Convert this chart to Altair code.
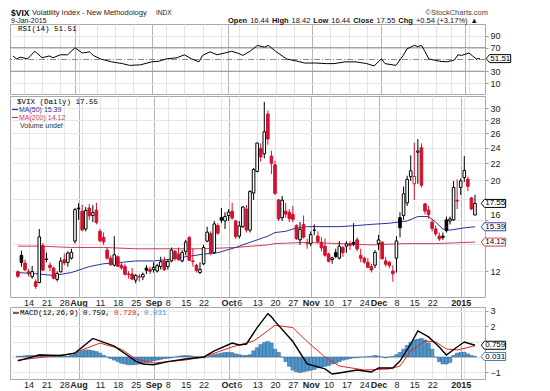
import altair as alt
import pandas as pd

# ---------------- data ----------------
# daily candles, trading-day index 0 = 9 Jul 2014 ... 128 = 9 Jan 2015
OPEN = [11.95, 13.10, 12.55, 11.95, 11.62, 11.30, 11.25, 13.84, 12.84, 12.40,
        12.20, 11.45, 11.95, 12.80, 12.60, 12.90, 14.20, 17.10, 16.80, 15.20,
        17.10, 16.40, 16.90, 15.00, 14.50, 13.50, 12.90, 12.40, 13.00, 12.40,
        12.30, 11.80, 11.80, 11.40, 11.60, 11.60, 12.20, 12.10, 12.10, 12.00,
        12.30, 12.70, 12.30, 12.70, 13.40, 13.20, 12.70, 13.40, 14.50, 12.70,
        12.40, 11.90, 12.50, 14.20, 14.80, 13.30, 15.50, 16.20, 15.90, 16.40,
        16.80, 15.90, 14.60, 15.40, 17.00, 15.10, 18.60, 21.00, 23.90, 23.20,
        29.00, 22.90, 21.80, 17.90, 16.20, 16.80, 16.70, 16.50, 15.50, 14.30,
        15.60, 14.00, 14.00, 15.10, 14.60, 14.10, 13.80, 13.20, 12.80, 13.30,
        12.90, 13.70, 13.80, 14.00, 14.10, 14.30, 13.10, 12.90, 12.60, 12.30,
        12.40, 14.00, 14.10, 12.70, 12.60, 12.00, 12.90, 16.20, 16.40, 17.60,
        20.40, 19.60, 23.40, 24.00, 17.50, 16.90, 15.80, 15.20, 14.60, 14.60,
        16.00, 15.90, 16.00, 17.85, 19.20, 20.30, 20.10, 18.10, 16.44]
HIGH = [12.05, 13.46, 12.80, 12.15, 12.35, 11.45, 15.20, 14.05, 13.31, 12.60,
        12.30, 11.98, 12.97, 13.25, 13.40, 13.60, 17.10, 17.57, 17.40, 17.20,
        17.50, 17.40, 17.60, 15.20, 14.90, 13.70, 13.10, 14.60, 13.10, 12.60,
        12.50, 12.00, 12.20, 11.80, 11.80, 11.90, 12.40, 12.30, 12.60, 12.50,
        13.00, 13.00, 12.80, 13.70, 13.50, 13.70, 13.50, 14.30, 14.60, 13.60,
        12.50, 12.60, 13.90, 15.40, 15.00, 15.90, 15.70, 17.10, 16.70, 17.00,
        17.60, 16.00, 15.90, 17.30, 17.40, 18.90, 21.40, 24.70, 24.60, 31.06,
        29.60, 23.60, 22.30, 18.00, 18.30, 17.60, 17.00, 17.30, 15.60, 15.80,
        16.40, 14.40, 15.00, 15.60, 15.00, 14.50, 14.40, 13.30, 13.00, 13.60,
        14.20, 13.80, 14.20, 14.20, 15.70, 14.50, 13.60, 13.00, 12.90, 12.50,
        13.50, 14.70, 14.20, 13.00, 12.70, 12.40, 14.60, 16.70, 19.30, 20.50,
        23.00, 24.70, 25.20, 24.60, 17.60, 17.30, 16.00, 15.50, 14.90, 14.90,
        16.30, 16.30, 19.90, 20.10, 20.20, 22.90, 20.40, 18.20, 18.42]
LOW = [11.55, 12.30, 12.00, 11.65, 11.50, 10.85, 11.20, 12.00, 12.60, 12.00,
       11.45, 11.32, 11.90, 12.40, 12.30, 12.80, 14.00, 16.00, 15.00, 15.00,
       16.00, 15.80, 15.60, 14.10, 13.90, 12.80, 12.40, 12.30, 12.30, 12.10,
       11.70, 11.50, 11.40, 11.20, 11.30, 11.40, 11.80, 11.80, 11.90, 11.90,
       12.10, 12.00, 12.10, 12.60, 12.70, 12.70, 12.60, 13.10, 12.70, 12.30,
       11.90, 11.80, 12.40, 14.10, 13.10, 13.20, 14.70, 15.70, 15.20, 15.90,
       16.00, 14.40, 14.40, 15.30, 14.90, 14.90, 17.90, 20.90, 22.20, 22.60,
       24.40, 20.70, 18.40, 15.90, 15.90, 16.20, 15.80, 15.80, 14.30, 13.90,
       14.40, 13.60, 13.80, 14.70, 14.00, 13.40, 13.00, 12.60, 12.50, 12.90,
       12.80, 13.00, 13.30, 13.50, 13.80, 13.40, 12.60, 12.50, 12.20, 11.90,
       12.20, 13.50, 12.80, 12.30, 12.20, 11.30, 11.90, 14.50, 16.00, 17.30,
       19.90, 17.90, 19.60, 19.20, 16.50, 16.10, 15.00, 14.60, 14.20, 14.30,
       14.90, 15.60, 15.90, 17.00, 18.40, 19.80, 18.80, 16.90, 16.44]
CLOSE = [11.65, 12.59, 12.08, 11.82, 11.96, 11.00, 14.54, 12.06, 12.81, 12.24,
         11.52, 11.84, 12.69, 12.56, 13.28, 13.33, 16.95, 17.03, 15.12, 16.87,
         16.37, 16.66, 15.77, 14.23, 14.13, 12.90, 12.42, 13.15, 12.32, 12.21,
         11.78, 11.76, 11.47, 11.70, 11.63, 11.78, 12.05, 11.98, 12.25, 12.36,
         12.64, 12.09, 12.66, 13.50, 12.88, 12.80, 13.31, 14.12, 12.73, 12.65,
         12.03, 12.11, 13.69, 14.93, 13.27, 15.64, 14.85, 15.98, 16.31, 16.71,
         16.16, 14.55, 15.46, 17.20, 15.11, 18.76, 21.24, 24.64, 22.79, 26.25,
         25.20, 21.99, 18.57, 16.08, 17.87, 16.53, 16.11, 16.04, 14.39, 15.15,
         14.52, 14.03, 14.73, 15.10, 14.17, 13.67, 13.12, 12.67, 12.92, 13.02,
         13.79, 13.31, 13.99, 13.86, 13.96, 13.58, 12.90, 12.62, 12.25, 12.07,
         13.33, 14.29, 12.85, 12.47, 12.38, 11.82, 14.21, 15.30, 18.53, 20.08,
         21.08, 20.42, 23.57, 19.44, 16.81, 16.49, 15.25, 14.80, 14.37, 14.50,
         15.06, 16.08, 19.20, 17.79, 19.92, 21.12, 19.31, 17.01, 17.55]
PREV_CLOSE = 11.98

MA50_I = [0, 6, 10, 15, 20, 24, 29, 33, 38, 42, 47, 52, 56, 61, 65, 70, 72, 75,
          77, 81, 86, 90, 95, 99, 104, 109, 112, 115, 117, 119, 121, 125, 128]
MA50_V = [11.9, 11.8, 11.7, 11.9, 12.3, 12.5, 12.6, 12.7, 12.7, 12.8, 13.0, 13.2,
          13.3, 13.7, 14.1, 14.6, 14.9, 15.0, 15.2, 15.4, 15.4, 15.4, 15.5, 15.6,
          15.7, 15.9, 16.3, 16.3, 15.8, 15.2, 15.1, 15.3, 15.39]
MA200_I = [0, 6, 15, 24, 33, 42, 52, 61, 70, 72, 81, 90, 99, 108, 117, 128]
MA200_V = [13.8, 13.8, 13.7, 13.7, 13.6, 13.6, 13.6, 13.7, 13.9, 14.0, 14.1, 14.0,
           13.9, 14.0, 14.0, 14.12]

RSI_I = [0, 1, 2, 4, 6, 8, 10, 11, 13, 15, 17, 19, 21, 22, 24, 27, 30, 32, 35, 38,
         40, 42, 45, 47, 49, 51, 52, 54, 56, 58, 60, 62, 63, 65, 67, 69, 70, 72, 75,
         78, 80, 83, 86, 88, 91, 94, 97, 99, 101, 102, 105, 107, 108, 110, 111, 112,
         113, 114, 117, 119, 121, 122, 123, 125, 126, 127, 128]
RSI_V = [56, 51, 54, 51, 64, 53, 56, 53, 58, 58, 70, 61, 63, 57, 51, 46, 43, 40, 41, 46,
         47, 51, 53, 58, 51, 46, 57, 63, 58, 61, 64, 60, 57, 64, 74, 71, 74, 64, 51,
         47, 44, 44, 43, 43, 46, 46, 43, 39, 51, 43, 40, 57, 68, 74, 72, 74,
         63, 51, 47, 46, 49, 58, 57, 61, 56, 51, 51.51]

MACD_I = [0, 6, 12, 16, 21, 27, 33, 35, 38, 42, 47, 52, 55, 60, 62, 64, 67, 70, 71, 72,
          77, 81, 86, 88, 90, 95, 99, 101, 105, 107, 110, 112, 115, 118, 120, 123, 125, 128]
MACD_V = [-0.25, 0.13, 0.1, 0.25, 1.2, 0.7, -0.26, -0.45, -0.5, -0.3, -0.13, 0.0, 0.4,
          0.9, 0.78, 0.84, 1.9, 2.8, 2.6, 2.3, 1.0, -0.45, -0.77, -1.1, -1.03, -0.84,
          -0.97, -0.71, -0.71, -0.26, 0.84, 1.68, 1.3, 0.65, 0.13, 0.65, 0.97, 0.759]
SIG_I = [0, 15, 23, 29, 33, 38, 47, 52, 60, 66, 70, 72, 77, 81, 86, 90, 97, 104, 107,
         110, 114, 117, 120, 123, 128]
SIG_V = [-0.2, 0.2, 0.9, 0.5, -0.13, -0.39, -0.19, 0.0, 0.65, 1.03, 1.7, 2.05, 1.9,
         1.0, 0.0, -0.58, -0.84, -0.77, -0.58, 0.39, 1.03, 0.97, 0.52, 0.45, 0.728]
HIST = [0.05, 0.05, 0.08, 0.1, 0.1, 0.08, 0.15, 0.15, 0.12,
        0.1, 0.08, 0.05, 0.05, 0.05, 0.05, 0.1,
        0.2, 0.3, 0.4, 0.45, 0.45, 0.4, 0.35,
        0.25, 0.1, 0.0, -0.1,
        -0.2, -0.3, -0.4, -0.45, -0.5, -0.5, -0.48, -0.45, -0.4, -0.35, -0.3, -0.25,
        -0.2, -0.15, -0.1, -0.08, -0.05, 0.0,
        0.05, 0.08, 0.1, 0.08, 0.05, 0.02,
        -0.05, -0.05, 0.0,
        0.1, 0.15, 0.2, 0.25, 0.3, 0.3, 0.28,
        0.2, 0.15, 0.1, 0.1, 0.15,
        0.4, 0.6, 0.8, 0.95, 1.0, 0.9,
        0.5, 0.3,
        0.0, -0.3, -0.6, -0.85, -0.95, -1.0, -0.95, -0.9, -0.85, -0.8, -0.7, -0.65, -0.6, -0.55, -0.45,
        -0.4, -0.3, -0.2, -0.15, -0.1, -0.05, -0.05, 0.0, 0.0, 0.03, 0.05, 0.1,
        0.05, 0.0, -0.05, 0.0, 0.03,
        0.15, 0.3, 0.5, 0.75, 0.95, 1.1, 1.15, 1.2, 1.1, 0.9, 0.5,
        0.0, -0.3, -0.45, -0.45, -0.35,
        0.1, 0.25, 0.3, 0.3, 0.2,
        0.1, 0.031]

# x-axis ticks (trading-day index) and their labels
GRID_TICKS = [3, 8, 13, 17, 18, 23, 28, 33, 38, 42, 47, 52, 57, 59, 62, 67, 72, 77,
              82, 87, 92, 97, 101, 106, 111, 116, 120, 124, 125]
MONTH_TICKS = [17, 38, 59, 82, 101, 124]
LABEL_TICKS = [3, 8, 13, 17, 23, 28, 33, 38, 42, 47, 52, 59, 62, 67, 72, 77, 82, 87,
               92, 97, 101, 106, 111, 116, 124]
LABEL_TEXT = ["14", "21", "28", "Aug", "11", "18", "25", "Sep", "8", "15", "22", "Oct",
              "6", "13", "20", "27", "Nov", "10", "17", "24", "Dec", "8", "15", "22", "2015"]

PRICE_TICKS = [12, 14, 16, 18, 20, 22, 24, 26, 28, 30]
PRICE_HIDDEN = [14, 18]          # labels hidden under the value tags
RSI_TICKS = [10, 30, 70, 90]
MACD_TICKS = [-1, 0, 1, 2, 3]
MACD_HIDDEN = [0, 1]

# ---------------- styling ----------------
FONT = "Liberation Sans"
MONO = "Liberation Mono"
RED = "#d2122e"
BLUE_MA = "#2b2f9e"
RED_MA = "#d23a5a"
HIST_FILL = "#4f97cc"
HIST_EDGE = "#2c5f88"
W = 475
X_DOMAIN = [-0.8, 129.4]
TAG_X = 129.75
TAG_PATH = "M0,0L0.4,-0.5L3.05,-0.5L3.05,0.5L0.4,0.5Z"

n = len(CLOSE)
prev = [PREV_CLOSE] + CLOSE[:-1]
col = [RED if c < p else "#000000" for c, p in zip(CLOSE, prev)]
fill = ["#ffffff" if c >= o else cl for o, c, cl in zip(OPEN, CLOSE, col)]
candles = pd.DataFrame({"i": list(range(n)), "o": OPEN, "h": HIGH, "l": LOW,
                        "c": CLOSE, "col": col, "fill": fill})
ma50 = pd.DataFrame({"i": MA50_I, "v": MA50_V})
ma200 = pd.DataFrame({"i": MA200_I, "v": MA200_V})
rsi = pd.DataFrame({"i": RSI_I, "v": RSI_V})
macd = pd.DataFrame({"i": MACD_I, "v": MACD_V})
sig = pd.DataFrame({"i": SIG_I, "v": SIG_V})
hist = pd.DataFrame({"i": list(range(n)), "h": HIST})
ONE = pd.DataFrame({"k": [0]})

xs = alt.Scale(domain=X_DOMAIN, nice=False, zero=False)
ys_price = alt.Scale(type="log", domain=[10.37, 32.1], nice=False)
ys_rsi = alt.Scale(domain=[-8.7, 110.4], nice=False, zero=False)
ys_macd = alt.Scale(domain=[-1.42, 3.23], nice=False, zero=False)

lab_idx = ", ".join(str(t) for t in LABEL_TICKS)
lab_txt = ", ".join("'" + s + "'" for s in LABEL_TEXT)
month_list = ", ".join(str(t) for t in MONTH_TICKS)
month_test = f"indexof([{month_list}], datum.value) >= 0"
label_expr = (f"indexof([{lab_idx}], datum.value) >= 0 ? "
              f"[{lab_txt}][indexof([{lab_idx}], datum.value)] : ''")
grid_color = {"condition": {"test": month_test, "value": "#b4b4b4"}, "value": "#e4e4e4"}


def x_axis(labels):
    common = dict(values=GRID_TICKS, grid=True, gridColor=grid_color, gridWidth=1,
                  ticks=False, domain=False, title=None)
    if labels:
        return alt.Axis(labelExpr=label_expr,
                        labelFontWeight={"condition": {"test": month_test, "value": "bold"},
                                         "value": "normal"},
                        labelFont=FONT, labelFontSize=9, labelColor="#222",
                        labelPadding=1, labelOverlap=False, labelFlush=False,
                        labelBound=False, **common)
    return alt.Axis(labels=False, **common)


def y_axis(values, hidden=(), raise_label=None):
    hid = ", ".join(str(h) for h in hidden) if hidden else "-999"
    extra = {}
    if raise_label is not None:
        extra["labelBaseline"] = {"condition": {"test": f"datum.value == {raise_label}",
                                                "value": "bottom"},
                                  "value": "middle"}
    return alt.Axis(orient="right", values=values, grid=True, gridColor="#e6e6e6",
                    tickSize=3, tickColor="#999", domain=False, labelFont=FONT,
                    labelFontSize=9, labelColor="#222", labelPadding=2, title=None,
                    format=".0f",
                    labelExpr=f"indexof([{hid}], datum.value) >= 0 ? '' : datum.label",
                    **extra)


def txt(text, x, y, size=7.5, color="#000", weight="normal", font=FONT, align="left"):
    return alt.Chart(ONE).mark_text(text=text, x=x, y=y, fontSize=size, color=color,
                                    fontWeight=weight, font=font, align=align,
                                    baseline="middle")


def dash(x, y, color):
    return alt.Chart(ONE).mark_rule(color=color, strokeWidth=1.2).encode(
        x=alt.value(x), x2=alt.value(x + 6), y=alt.value(y))


def tags(df, ys, yax, xax):
    base = alt.Chart(df)
    enc = dict(x=alt.XDatum(TAG_X, scale=xs, axis=xax),
               y=alt.Y("v:Q", scale=ys, axis=yax))
    box = base.mark_point(shape=TAG_PATH, size=256, filled=True, fill="white",
                          strokeWidth=1, opacity=1, clip=False).encode(
        stroke=alt.Stroke("col:N", scale=None), **enc)
    label = base.mark_text(align="center", baseline="middle", dx=14, fontSize=8,
                           font=FONT, color="#000").encode(text="t:N", **enc)
    return [box, label]


# ---------------- RSI panel ----------------
xa0 = x_axis(False)
ya_rsi = y_axis(RSI_TICKS)
X0 = alt.X("i:Q", scale=xs, axis=xa0)
rsi_lines = alt.Chart(pd.DataFrame({"v": [30, 70]})).mark_rule(color="#8a8a8a", strokeWidth=1).encode(
    y=alt.Y("v:Q", scale=ys_rsi, axis=ya_rsi))
rsi_mid = alt.Chart(pd.DataFrame({"v": [50]})).mark_rule(color="#8a8a8a", strokeWidth=1,
                                                         strokeDash=[6, 2, 1, 2]).encode(
    y=alt.Y("v:Q", scale=ys_rsi, axis=ya_rsi))
rsi_line = alt.Chart(rsi).mark_line(color="#000", strokeWidth=1).encode(
    x=X0, y=alt.Y("v:Q", scale=ys_rsi, axis=ya_rsi))
rsi_tag = tags(pd.DataFrame({"v": [51.51], "t": ["51.51"], "col": ["#000"]}), ys_rsi, ya_rsi, xa0)

# header line 2 segments
SEG = [("Open", "bold"), ("16.44", "normal"), ("High", "bold"), ("18.42", "normal"),
       ("Low", "bold"), ("16.44", "normal"), ("Close", "bold"), ("17.55", "normal"),
       ("Chg", "bold"), ("+0.54 (+3.17%)", "normal"), ("\u25b2", "normal")]
EM_N = {"0": .556, "1": .556, "2": .556, "3": .556, "4": .556, "5": .556, "6": .556,
        "7": .556, "8": .556, "9": .556, ".": .278, " ": .278, "+": .584, "(": .333,
        ")": .333, "%": .889}
EM_B = {"O": .778, "p": .611, "e": .556, "n": .611, "H": .722, "i": .278, "g": .611,
        "h": .611, "L": .611, "o": .611, "w": .778, "C": .722, "l": .278, "s": .556}
hdr = []
hx = 218
for s, wgt in SEG:
    hdr.append(txt(s, hx, -3, size=7.5, weight=wgt, color="#111"))
    table = EM_B if wgt == "bold" else EM_N
    hx += sum(table.get(ch, 0.6) for ch in s) * 7.5 + 3.0

rsi_layers = [rsi_lines, rsi_mid, rsi_line] + rsi_tag + [
    txt("$VIX", 1, -11.5, size=8.5, weight="bold"),
    txt("Volatility Index - New Methodology", 22, -11.5, size=7.5, color="#222"),
    txt("INDX", 146, -11.5, size=6.5, color="#222"),
    txt("9-Jan-2015", 1, -3, size=7, color="#111"),
    txt("\u00a9StockCharts.com", 478, -11.5, size=7.5, color="#444", align="right"),
    txt("RSI(14) 51.51", 8, 5, size=7.5, font=MONO),
] + hdr
rsi_panel = alt.layer(*rsi_layers).properties(width=W, height=70)

# ---------------- price panel ----------------
xa1 = x_axis(True)
ya_p = y_axis(PRICE_TICKS, PRICE_HIDDEN, raise_label=16)
X1 = alt.X("i:Q", scale=xs, axis=xa1)
ma200_line = alt.Chart(ma200).mark_line(color=RED_MA, strokeWidth=1).encode(
    x=X1, y=alt.Y("v:Q", scale=ys_price, axis=ya_p))
ma50_line = alt.Chart(ma50).mark_line(color=BLUE_MA, strokeWidth=1).encode(
    x=X1, y=alt.Y("v:Q", scale=ys_price, axis=ya_p))
wicks = alt.Chart(candles).mark_rule(strokeWidth=1).encode(
    x=X1, y=alt.Y("l:Q", scale=ys_price, axis=ya_p), y2="h:Q",
    color=alt.Color("col:N", scale=None))
bodies = alt.Chart(candles).mark_bar(size=2.6, strokeWidth=1).encode(
    x=X1, y=alt.Y("o:Q", scale=ys_price, axis=ya_p), y2="c:Q",
    fill=alt.Fill("fill:N", scale=None), stroke=alt.Stroke("col:N", scale=None))
price_tags = tags(pd.DataFrame({"v": [17.55, 15.39, 14.12],
                                "t": ["17.55", "15.39", "14.12"],
                                "col": ["#000", "#3a40b0", "#d0405a"]}), ys_price, ya_p, xa1)
price_layers = [ma200_line, ma50_line, wicks, bodies] + price_tags + [
    txt("$VIX (Daily) 17.55", 7, 5.5, size=7.5, font=MONO),
    dash(2, 13.5, BLUE_MA),
    txt("MA(50) 15.39", 9, 13.5, size=7, color=BLUE_MA),
    dash(2, 21.5, RED_MA),
    txt("MA(200) 14.12", 9, 21.5, size=7, color=RED_MA),
    txt("Volume undef", 10, 29.5, size=7, color="#333"),
]
price_panel = alt.layer(*price_layers).properties(width=W, height=201)

# ---------------- MACD panel ----------------
ya_m = y_axis(MACD_TICKS, MACD_HIDDEN)
X2 = alt.X("i:Q", scale=xs, axis=xa1)
bars = alt.Chart(hist).mark_bar(size=3.6, fill=HIST_FILL, stroke=HIST_EDGE, strokeWidth=0.5).encode(
    x=X2, y=alt.Y("h:Q", scale=ys_macd, axis=ya_m), y2=alt.Y2Datum(0))
sig_line = alt.Chart(sig).mark_line(color="#ee2222", strokeWidth=1).encode(
    x=X2, y=alt.Y("v:Q", scale=ys_macd, axis=ya_m))
macd_line = alt.Chart(macd).mark_line(color="#000", strokeWidth=1.4).encode(
    x=X2, y=alt.Y("v:Q", scale=ys_macd, axis=ya_m))
macd_tags = tags(pd.DataFrame({"v": [0.759, 0.031], "t": ["0.759", "0.031"],
                               "col": ["#000", "#3a7fb5"]}), ys_macd, ya_m, xa1)
macd_layers = [bars, sig_line, macd_line] + macd_tags + [
    dash(3, 6, "#000"),
    txt("MACD(12,26,9) 0.759,", 10, 6, size=7.5, font=MONO),
    txt("0.728", 104, 6, size=7.5, font=MONO, color="#ee2222"),
    txt(",", 126.5, 6, size=7.5, font=MONO),
    txt("0.031", 134, 6, size=7.5, font=MONO, color="#3a9ad0"),
]
macd_panel = alt.layer(*macd_layers).properties(width=W, height=72)

lower = alt.vconcat(price_panel, macd_panel, spacing=10, bounds="flush")
chart = alt.vconcat(rsi_panel, lower, spacing=0).properties(
    padding={"left": 1, "top": 0, "right": 0, "bottom": 0}
).configure_view(stroke="#a8a8a8", strokeWidth=1)

chart.save("out.html", embed_options={"renderer": "svg", "actions": False})
